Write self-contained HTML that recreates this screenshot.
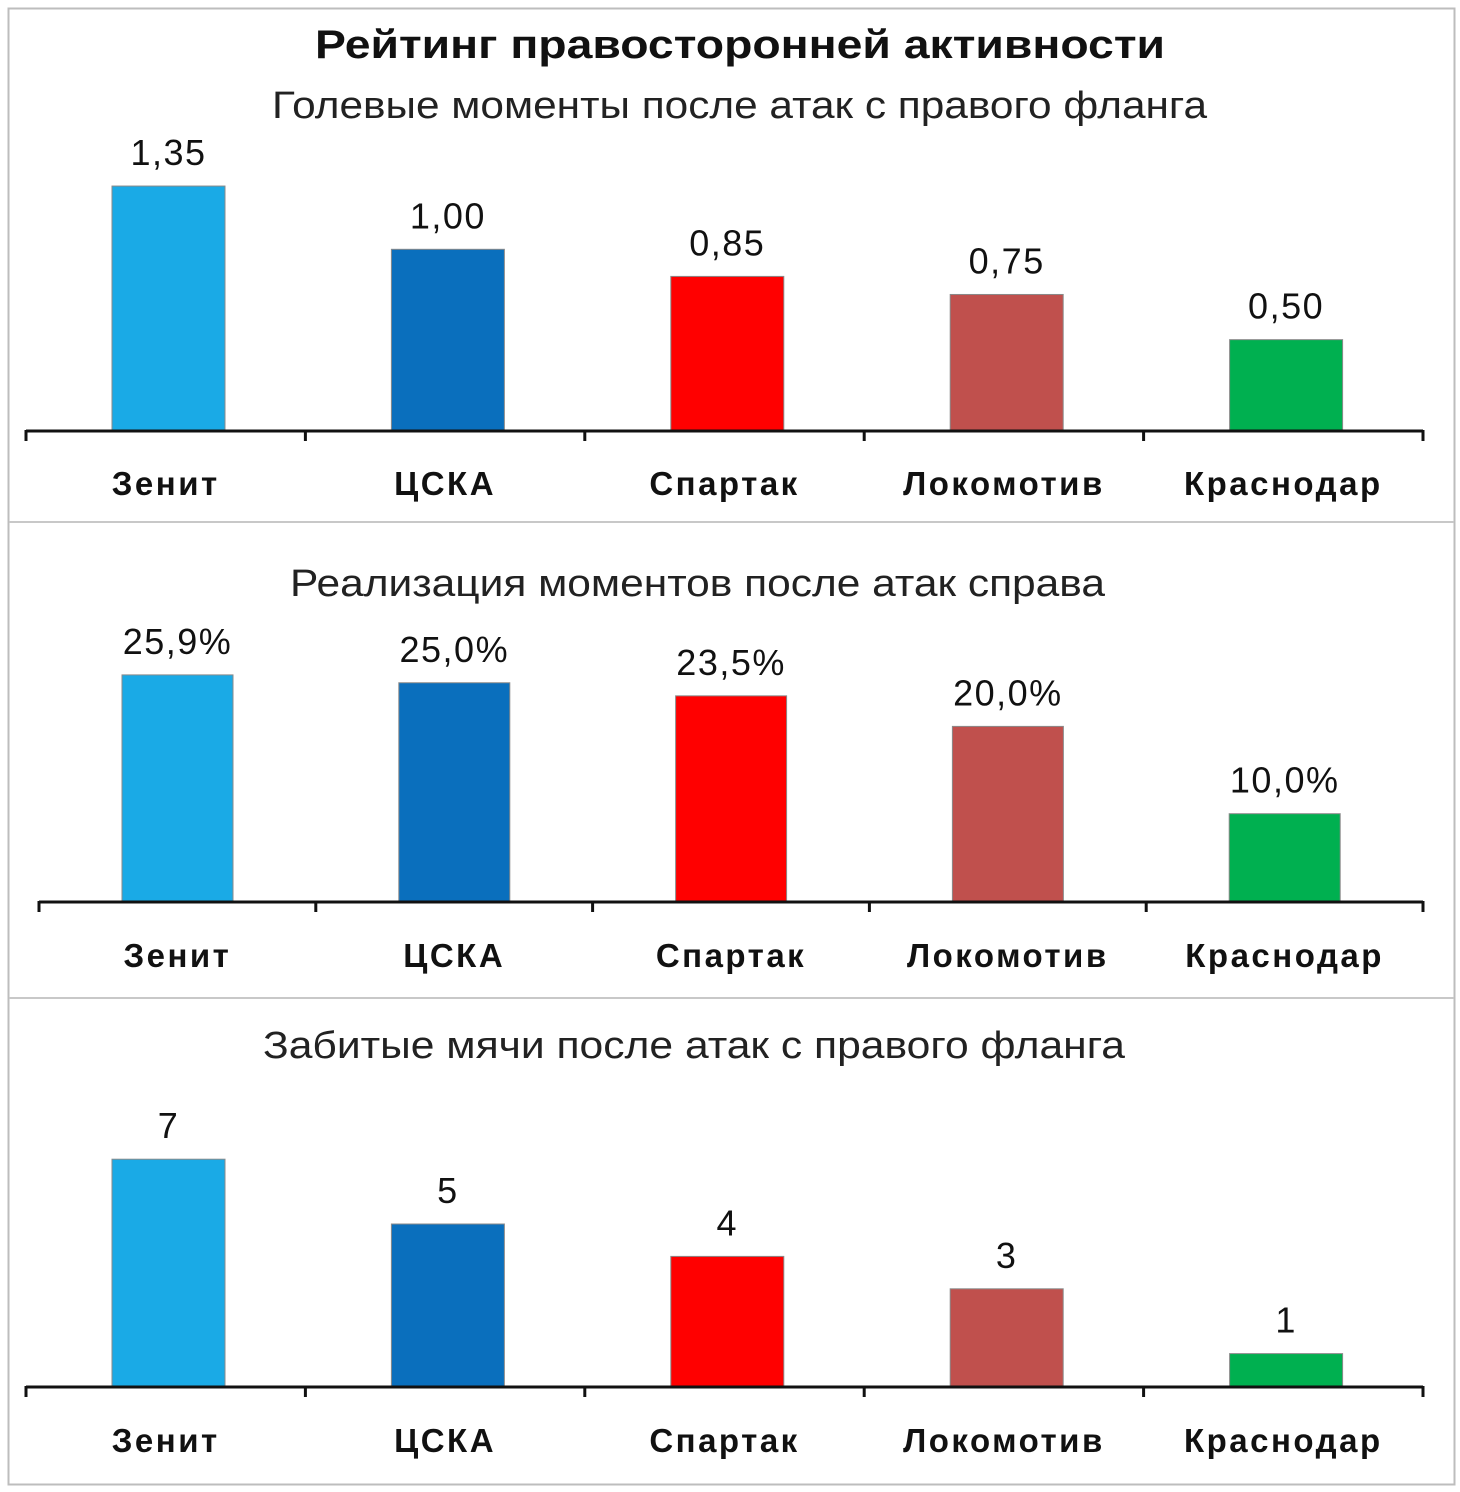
<!DOCTYPE html>
<html><head><meta charset="utf-8">
<style>
html,body{margin:0;padding:0;background:#fff;}
svg{display:block;font-family:"Liberation Sans","DejaVu Sans",sans-serif;}
</style></head>
<body>
<svg id="chart" width="1460" height="1492" viewBox="0 0 1460 1492" xmlns="http://www.w3.org/2000/svg">
<rect x="8.5" y="8.5" width="1446" height="1476" fill="#fff" stroke="#bdbdbd" stroke-width="2"/>
<line x1="9" y1="522" x2="1454" y2="522" stroke="#c8c8c8" stroke-width="2"/>
<line x1="9" y1="998" x2="1454" y2="998" stroke="#c8c8c8" stroke-width="2"/>
<text x="315" y="58" textLength="850" lengthAdjust="spacingAndGlyphs" font-size="40" font-weight="bold" fill="#111">Рейтинг правосторонней активности</text>
<text x="272" y="118" textLength="935" lengthAdjust="spacingAndGlyphs" font-size="38" fill="#222">Голевые моменты после атак с правого фланга</text>
<text x="290" y="596" textLength="815" lengthAdjust="spacingAndGlyphs" font-size="38" fill="#222">Реализация моментов после атак справа</text>
<text x="263" y="1058" textLength="862" lengthAdjust="spacingAndGlyphs" font-size="38" fill="#222">Забитые мячи после атак с правого фланга</text>
<g id="plots"></g>
</svg>
<script>
const categories = ["Зенит","ЦСКА","Спартак","Локомотив","Краснодар"];
const colors = ["#1aaae6","#0a6fbd","#ff0000","#c0504d","#00b050"];
const chancesValues = [1.35, 1.00, 0.85, 0.75, 0.50];
const chancesLabels = ["1,35","1,00","0,85","0,75","0,50"];
const conversionValues = [25.9, 25.0, 23.5, 20.0, 10.0];
const conversionLabels = ["25,9%","25,0%","23,5%","20,0%","10,0%"];
const goalsValues = [7, 5, 4, 3, 1];
const goalsLabels = ["7","5","4","3","1"];

const NS = "http://www.w3.org/2000/svg";
const root = document.getElementById("plots");
function mk(tag, attrs, parent){
  const e = document.createElementNS(NS, tag);
  for (const k in attrs) e.setAttribute(k, attrs[k]);
  (parent||root).appendChild(e);
  return e;
}
function panel(id, values, labels, x0, x1, baseY, pxPerUnit, barW, barOff, catY){
  const g = mk("g", {});
  
  
  const step = (x1 - x0) / categories.length;
  const xs = i => x0 + step * i;
  const ys = v => baseY - v * pxPerUnit;
  values.forEach((v, i) => {
    const bx = xs(i) + barOff;
    const r = mk("rect", {x: bx, y: ys(v), width: barW, height: baseY - ys(v), fill: colors[i], stroke: "#8a8a8a", "stroke-width": 1}, g);
    
    
    const t = mk("text", {x: bx + barW / 2, y: ys(v) - 21, "text-anchor": "middle", "font-size": 36, "letter-spacing": 1.5, fill: "#111"}, g);
    t.textContent = labels[i];
    
    
    const c = mk("text", {x: xs(i) + step / 2, y: catY, "text-anchor": "middle", "font-size": 33, "font-weight": "bold", "letter-spacing": 2.5, fill: "#111"}, g);
    c.textContent = categories[i];
    
    
  });
  const ax = mk("line", {x1: x0, y1: baseY + 1, x2: x1, y2: baseY + 1, stroke: "#111", "stroke-width": 3}, g);
  
  
  for (let i = 0; i <= categories.length; i++) {
    const tk = mk("line", {x1: xs(i), y1: baseY, x2: xs(i), y2: baseY + 11, stroke: "#111", "stroke-width": 3}, g);
    
    
  }
}
panel("chances", chancesValues, chancesLabels, 26, 1423, 430, 180.7, 113, 86, 495);
panel("conversion", conversionValues, conversionLabels, 39, 1423, 901, 8.73, 111, 83, 967);
panel("goals", goalsValues, goalsLabels, 26, 1423, 1386, 32.4, 113, 86, 1452);
</script>
</body></html>
